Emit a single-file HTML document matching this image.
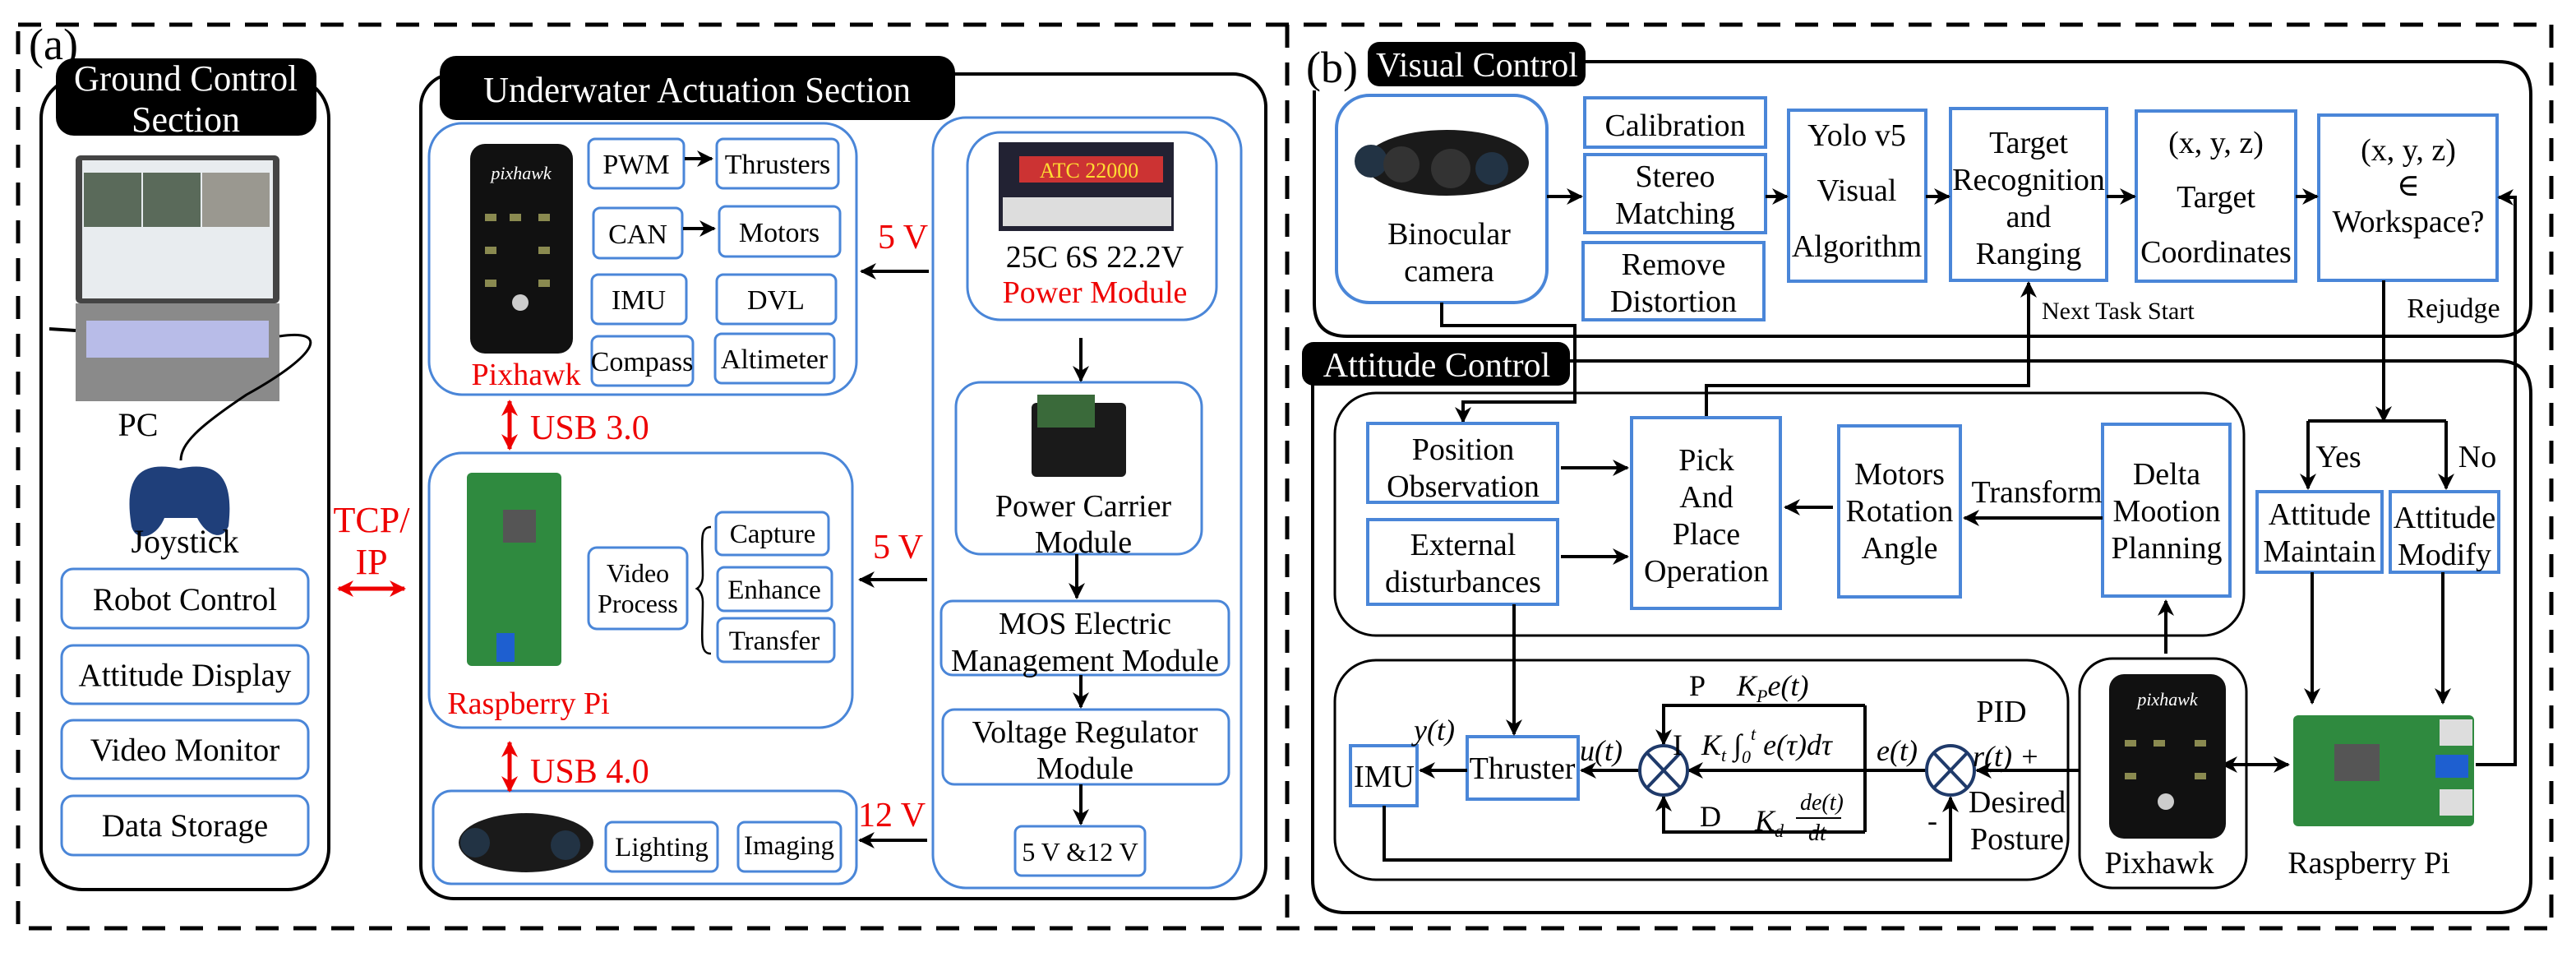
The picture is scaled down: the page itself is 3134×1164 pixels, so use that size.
<!DOCTYPE html>
<html><head><meta charset="utf-8"><style>
html,body{margin:0;padding:0;background:#fff;}
svg{display:block;}
svg text{font-family:"Liberation Serif","DejaVu Serif",serif;}
</style></head><body>
<svg width="3134" height="1164" viewBox="0 0 3134 1164" xmlns="http://www.w3.org/2000/svg" font-family="Liberation Serif, DejaVu Serif, serif">
<defs>
<marker id="a" viewBox="0 0 10 10" refX="9" refY="5" markerWidth="5" markerHeight="5" orient="auto-start-reverse"><path d="M0,0 L10,5 L0,10 L3,5 z" fill="#000"/></marker>
<marker id="r" viewBox="0 0 10 10" refX="9" refY="5" markerWidth="4" markerHeight="4" orient="auto-start-reverse"><path d="M0,0 L10,5 L0,10 L3,5 z" fill="#e00"/></marker>
</defs>
<g fill="none" stroke="#000" stroke-width="5" stroke-dasharray="28,18">
<rect x="22" y="30" width="3082" height="1099"/>
<line x1="1566" y1="30" x2="1566" y2="1129"/>
</g>
<text x="35" y="72" font-size="54">(a)</text>
<text x="1589" y="100" font-size="54">(b)</text>

<!-- Ground control -->
<rect x="50" y="94" width="350" height="988" rx="50" fill="none" stroke="#000" stroke-width="4"/>
<rect x="68" y="71" width="317" height="94" rx="22" fill="#000"/>
<text x="226" y="110" font-size="44" text-anchor="middle" fill="#fff" textLength="272" lengthAdjust="spacingAndGlyphs">Ground Control</text>
<text x="226" y="160" font-size="44" text-anchor="middle" fill="#fff">Section</text>
<!-- laptop -->
<rect x="92" y="189" width="248" height="180" rx="6" fill="#444"/>
<rect x="100" y="195" width="232" height="168" fill="#e8ecef"/>
<rect x="102" y="210" width="70" height="66" fill="#5a6a5a"/><rect x="174" y="210" width="70" height="66" fill="#5a6a5a"/><rect x="246" y="210" width="82" height="66" fill="#9a9890"/>
<rect x="92" y="369" width="248" height="119" fill="#8a8a8a"/>
<rect x="105" y="390" width="222" height="45" fill="#b8bce8"/>
<path d="M340,409 C400,400 390,430 300,480 C240,520 220,540 220,560" fill="none" stroke="#000" stroke-width="3"/>
<line x1="60" y1="400" x2="92" y2="402" stroke="#000" stroke-width="4"/>
<text x="168" y="530" font-size="40" text-anchor="middle">PC</text>
<path d="M160,640 C150,580 170,560 218,570 C265,560 285,580 278,640 C270,660 250,650 240,630 L200,630 C190,655 165,660 160,640z" fill="#1f3f7a"/>
<text x="225" y="672" font-size="40" text-anchor="middle">Joystick</text>
<g fill="none" stroke="#4a86d8" stroke-width="3">
<rect x="75" y="692" width="300" height="72" rx="14"/>
<rect x="75" y="785" width="300" height="71" rx="14"/>
<rect x="75" y="876" width="300" height="71" rx="14"/>
<rect x="75" y="968" width="300" height="72" rx="14"/>
</g>
<g font-size="39" text-anchor="middle">
<text x="225" y="742">Robot Control</text>
<text x="225" y="834">Attitude Display</text>
<text x="225" y="925">Video Monitor</text>
<text x="225" y="1017">Data Storage</text>
</g>
<text x="452" y="647" font-size="44" text-anchor="middle" fill="#e00">TCP/</text>
<text x="452" y="698" font-size="44" text-anchor="middle" fill="#e00">IP</text>
<line x1="412" y1="716" x2="492" y2="716" stroke="#e00" stroke-width="5" marker-start="url(#r)" marker-end="url(#r)"/>

<!-- Underwater actuation -->
<rect x="512" y="90" width="1028" height="1003" rx="40" fill="none" stroke="#000" stroke-width="4"/>
<rect x="535" y="68" width="627" height="78" rx="20" fill="#000"/>
<text x="848" y="124" font-size="44" text-anchor="middle" fill="#fff" textLength="520" lengthAdjust="spacingAndGlyphs">Underwater Actuation Section</text>
<g fill="none" stroke="#4a86d8" stroke-width="3">
<rect x="522" y="150" width="520" height="330" rx="40"/>
<rect x="716" y="169" width="116" height="60" rx="8"/>
<rect x="872" y="169" width="148" height="60" rx="8"/>
<rect x="722" y="253" width="108" height="61" rx="8"/>
<rect x="875" y="251" width="147" height="61" rx="8"/>
<rect x="720" y="334" width="115" height="60" rx="8"/>
<rect x="872" y="334" width="145" height="60" rx="8"/>
<rect x="720" y="409" width="123" height="60" rx="8"/>
<rect x="870" y="406" width="145" height="60" rx="8"/>
<rect x="522" y="551" width="515" height="334" rx="40"/>
<rect x="716" y="666" width="120" height="99" rx="10"/>
<rect x="871" y="623" width="137" height="52" rx="8"/>
<rect x="873" y="690" width="139" height="53" rx="8"/>
<rect x="873" y="752" width="142" height="53" rx="8"/>
<rect x="527" y="962" width="515" height="113" rx="22"/>
<rect x="737" y="1000" width="136" height="60" rx="8"/>
<rect x="898" y="1000" width="125" height="60" rx="8"/>
<rect x="1135" y="143" width="375" height="937" rx="40"/>
<rect x="1177" y="161" width="303" height="228" rx="40"/>
<rect x="1163" y="465" width="299" height="209" rx="30"/>
<rect x="1145" y="731" width="350" height="90" rx="14"/>
<rect x="1147" y="863" width="348" height="91" rx="14"/>
<rect x="1235" y="1005" width="158" height="60" rx="8"/>
</g>
<!-- pixhawk image -->
<rect x="572" y="175" width="125" height="255" rx="18" fill="#111"/>
<text x="634" y="218" font-size="22" font-style="italic" text-anchor="middle" fill="#fff">pixhawk</text>
<g fill="#8a8a50"><rect x="590" y="260" width="14" height="9"/><rect x="620" y="260" width="14" height="9"/><rect x="655" y="260" width="14" height="9"/><rect x="590" y="300" width="14" height="9"/><rect x="655" y="300" width="14" height="9"/><rect x="590" y="340" width="14" height="9"/><rect x="655" y="340" width="14" height="9"/></g>
<circle cx="633" cy="368" r="10" fill="#ccc"/>
<text x="640" y="468" font-size="38" text-anchor="middle" fill="#e00">Pixhawk</text>
<g font-size="34" text-anchor="middle">
<text x="774" y="211">PWM</text><text x="946" y="211">Thrusters</text>
<text x="776" y="296">CAN</text><text x="948" y="294">Motors</text>
<text x="777" y="376">IMU</text><text x="944" y="376">DVL</text>
<text x="781" y="451">Compass</text><text x="942" y="448">Altimeter</text>
</g>
<g stroke="#000" stroke-width="4" marker-end="url(#a)">
<line x1="833" y1="193" x2="866" y2="193"/>
<line x1="831" y1="278" x2="869" y2="278"/>
<line x1="1130" y1="330" x2="1048" y2="330"/>
<line x1="1128" y1="705" x2="1046" y2="705"/>
<line x1="1128" y1="1022" x2="1046" y2="1022"/>
<line x1="1315" y1="411" x2="1315" y2="463"/>
<line x1="1310" y1="674" x2="1310" y2="727"/>
<line x1="1315" y1="821" x2="1315" y2="860"/>
<line x1="1315" y1="954" x2="1315" y2="1002"/>
</g>
<g font-size="42" fill="#e00">
<text x="1068" y="302">5 V</text>
<text x="1062" y="679">5 V</text>
<text x="1044" y="1005">12 V</text>
<text x="645" y="534">USB 3.0</text>
<text x="645" y="952">USB 4.0</text>
</g>
<line x1="620" y1="488" x2="620" y2="546" stroke="#e00" stroke-width="5" marker-start="url(#r)" marker-end="url(#r)"/>
<line x1="620" y1="903" x2="620" y2="962" stroke="#e00" stroke-width="5" marker-start="url(#r)" marker-end="url(#r)"/>
<!-- rpi image -->
<rect x="568" y="575" width="115" height="235" rx="6" fill="#2f8a3f"/>
<rect x="604" y="770" width="22" height="35" fill="#1e5fd0"/>
<rect x="612" y="620" width="40" height="40" fill="#555"/>
<text x="643" y="868" font-size="38" text-anchor="middle" fill="#e00">Raspberry Pi</text>
<text x="776" y="708" font-size="32" text-anchor="middle">Video</text>
<text x="776" y="745" font-size="32" text-anchor="middle">Process</text>
<path d="M865,641 C850,641 855,660 855,700 C855,712 848,716 848,716 C848,716 855,720 855,732 C855,775 850,795 865,795" fill="none" stroke="#000" stroke-width="2.5"/>
<g font-size="33" text-anchor="middle">
<text x="940" y="660">Capture</text><text x="942" y="728">Enhance</text><text x="942" y="790">Transfer</text>
<text x="805" y="1041">Lighting</text><text x="960" y="1039">Imaging</text>
</g>
<!-- camera -->
<ellipse cx="640" cy="1025" rx="82" ry="36" fill="#1a1a1a"/>
<circle cx="578" cy="1025" r="18" fill="#234"/><circle cx="688" cy="1028" r="18" fill="#234"/>
<!-- power -->
<rect x="1215" y="173" width="213" height="108" fill="#223" />
<rect x="1240" y="190" width="175" height="32" fill="#c33"/>
<text x="1325" y="216" font-size="26" text-anchor="middle" fill="#fd3">ATC 22000</text>
<rect x="1220" y="240" width="205" height="35" fill="#ddd"/>
<text x="1332" y="325" font-size="38" text-anchor="middle">25C 6S 22.2V</text>
<text x="1332" y="368" font-size="38" text-anchor="middle" fill="#e00">Power Module</text>
<rect x="1255" y="490" width="115" height="90" rx="6" fill="#1a1a1a"/>
<rect x="1262" y="480" width="70" height="40" fill="#3a6a3a"/>
<g font-size="38" text-anchor="middle">
<text x="1318" y="628">Power Carrier</text><text x="1318" y="672">Module</text>
<text x="1320" y="771">MOS Electric</text><text x="1320" y="816">Management Module</text>
<text x="1320" y="903">Voltage Regulator</text><text x="1320" y="947">Module</text>
</g>
<text x="1314" y="1047" font-size="32" text-anchor="middle">5 V &amp;12 V</text>

<!-- (b) Visual control -->
<path d="M1929,75 L3039,75 Q3079,75 3079,115 L3079,369 Q3079,409 3039,409 L1639,409 Q1599,409 1599,369 L1599,110" fill="none" stroke="#000" stroke-width="4"/>
<rect x="1664" y="51" width="265" height="54" rx="14" fill="#000"/>
<text x="1797" y="93" font-size="42" text-anchor="middle" fill="#fff">Visual Control</text>
<g fill="none" stroke="#4a86d8" stroke-width="4">
<rect x="1626" y="116" width="256" height="252" rx="40"/>
<rect x="1928" y="119" width="220" height="60"/>
<rect x="1928" y="188" width="220" height="95"/>
<rect x="1926" y="295" width="220" height="94"/>
<rect x="2176" y="134" width="167" height="208"/>
<rect x="2373" y="132" width="190" height="209"/>
<rect x="2599" y="135" width="194" height="207"/>
<rect x="2821" y="140" width="217" height="201"/>
</g>
<ellipse cx="1760" cy="198" rx="100" ry="40" fill="#1a1a1a"/>
<circle cx="1668" cy="196" r="20" fill="#234"/><circle cx="1705" cy="200" r="22" fill="#333"/><circle cx="1765" cy="205" r="24" fill="#333"/><circle cx="1815" cy="205" r="20" fill="#234"/>
<g font-size="38" text-anchor="middle">
<text x="1763" y="297">Binocular</text><text x="1763" y="342">camera</text>
<text x="2038" y="165">Calibration</text>
<text x="2038" y="227">Stereo</text><text x="2038" y="272">Matching</text>
<text x="2036" y="334">Remove</text><text x="2036" y="379">Distortion</text>
<text x="2259" y="177">Yolo v5</text><text x="2259" y="244">Visual</text><text x="2259" y="312">Algorithm</text>
<text x="2468" y="186">Target</text><text x="2468" y="231">Recognition</text><text x="2468" y="276">and</text><text x="2468" y="321">Ranging</text>
<text x="2696" y="186">(x, y, z)</text><text x="2696" y="252">Target</text><text x="2696" y="319">Coordinates</text>
<text x="2930" y="195">(x, y, z)</text><text x="2930" y="238">∈</text><text x="2930" y="282">Workspace?</text>
</g>
<g stroke="#000" stroke-width="4" fill="none" marker-end="url(#a)">
<line x1="1882" y1="239" x2="1924" y2="239"/>
<line x1="2148" y1="239" x2="2174" y2="239"/>
<line x1="2343" y1="239" x2="2371" y2="239"/>
<line x1="2563" y1="239" x2="2597" y2="239"/>
<line x1="2793" y1="239" x2="2819" y2="239"/>
<polyline points="3012,930 3060,930 3060,240 3040,240"/>
<polyline points="2076,506 2076,469 2468,469 2468,344"/>
<polyline points="1754,368 1754,396 1916,396 1916,489 1780,489 1780,513"/>
</g>
<text x="2484" y="388" font-size="30">Next Task Start</text>
<text x="2985" y="386" font-size="34" text-anchor="middle">Rejudge</text>

<!-- Attitude control -->
<path d="M1910,439 L3039,439 Q3079,439 3079,479 L3079,1070 Q3079,1110 3039,1110 L1637,1110 Q1597,1110 1597,1070 L1597,460" fill="none" stroke="#000" stroke-width="4"/>
<rect x="1584" y="416" width="326" height="53" rx="14" fill="#000"/>
<text x="1748" y="458" font-size="42" text-anchor="middle" fill="#fff">Attitude Control</text>
<rect x="1624" y="478" width="1106" height="295" rx="50" fill="none" stroke="#000" stroke-width="3"/>
<rect x="1624" y="803" width="892" height="267" rx="50" fill="none" stroke="#000" stroke-width="3"/>
<rect x="2530" y="801" width="203" height="279" rx="40" fill="none" stroke="#000" stroke-width="3"/>
<g fill="none" stroke="#4a86d8" stroke-width="4">
<rect x="1664" y="515" width="231" height="96"/>
<rect x="1664" y="632" width="231" height="103"/>
<rect x="1985" y="508" width="181" height="232"/>
<rect x="2237" y="518" width="148" height="208"/>
<rect x="2558" y="516" width="155" height="209"/>
<rect x="2746" y="598" width="152" height="98"/>
<rect x="2908" y="598" width="132" height="98"/>
<rect x="1643" y="907" width="81" height="73"/>
<rect x="1785" y="896" width="135" height="76"/>
</g>
<g font-size="38" text-anchor="middle">
<text x="1780" y="559">Position</text><text x="1780" y="604">Observation</text>
<text x="1780" y="675">External</text><text x="1780" y="720">disturbances</text>
<text x="2076" y="572">Pick</text><text x="2076" y="617">And</text><text x="2076" y="662">Place</text><text x="2076" y="707">Operation</text>
<text x="2311" y="589">Motors</text><text x="2311" y="634">Rotation</text><text x="2311" y="679">Angle</text>
<text x="2636" y="589">Delta</text><text x="2636" y="634">Mootion</text><text x="2636" y="679">Planning</text>
<text x="2478" y="611">Transform</text>
<text x="2822" y="638">Attitude</text><text x="2822" y="683">Maintain</text>
<text x="2974" y="642">Attitude</text><text x="2974" y="687">Modify</text>
<text x="2845" y="568">Yes</text><text x="3014" y="568">No</text>
<text x="1684" y="957">IMU</text><text x="1852" y="947">Thruster</text>
<text x="2627" y="1062">Pixhawk</text><text x="2882" y="1062">Raspberry Pi</text>
<text x="2435" y="878">PID</text>
<text x="2454" y="988">Desired</text><text x="2454" y="1033">Posture</text>
</g>
<g stroke="#000" stroke-width="4" fill="none" marker-end="url(#a)">
<line x1="1899" y1="569" x2="1980" y2="569"/>
<line x1="1899" y1="677" x2="1980" y2="677"/>
<line x1="2230" y1="617" x2="2172" y2="617"/>
<line x1="2558" y1="630" x2="2390" y2="630"/>
<line x1="2635" y1="795" x2="2635" y2="731"/>
<polyline points="2900,341 2900,512"/>
<line x1="2808" y1="512" x2="2808" y2="594"/>
<line x1="2976" y1="512" x2="2976" y2="594"/>
<line x1="2813" y1="696" x2="2813" y2="855"/>
<line x1="2972" y1="696" x2="2972" y2="855"/>
<line x1="1842" y1="735" x2="1842" y2="893"/>
<line x1="2530" y1="937" x2="2405" y2="937"/>
<line x1="2343" y1="937" x2="2054" y2="937"/>
<line x1="1994" y1="937" x2="1924" y2="937"/>
<line x1="1785" y1="937" x2="1728" y2="937"/>
<polyline points="1684,980 1684,1046 2373,1046 2373,970"/>
<polyline points="2269,858 2024,858 2024,905"/>
<polyline points="2269,1012 2024,1012 2024,969"/>
</g>
<line x1="2808" y1="512" x2="2976" y2="512" stroke="#000" stroke-width="4"/>
<line x1="2269" y1="858" x2="2269" y2="1012" stroke="#000" stroke-width="4"/>
<line x1="2704" y1="930" x2="2784" y2="930" stroke="#000" stroke-width="4" marker-start="url(#a)" marker-end="url(#a)"/>
<g fill="#fff" stroke="#1f3a6a" stroke-width="4">
<ellipse cx="2024" cy="937" rx="29" ry="30"/><ellipse cx="2373" cy="937" rx="29" ry="30"/>
</g>
<g stroke="#1f3a6a" stroke-width="4">
<line x1="2004" y1="916" x2="2044" y2="958"/><line x1="2044" y1="916" x2="2004" y2="958"/>
<line x1="2353" y1="916" x2="2393" y2="958"/><line x1="2393" y1="916" x2="2353" y2="958"/>
</g>
<g font-size="36" font-style="italic">
<text x="1720" y="900">y(t)</text>
<text x="1922" y="925">u(t)</text>
<text x="2283" y="925">e(t)</text>
<text x="2400" y="932">r(t) +</text>
<text x="2113" y="846">K<tspan font-size="22" dy="8">P</tspan><tspan dy="-8">e(t)</tspan></text>
<text x="2070" y="918">K<tspan font-size="22" dy="8">t</tspan><tspan dy="-8"> ∫</tspan><tspan font-size="22" dy="10">0</tspan><tspan font-size="22" dy="-28">t</tspan><tspan dy="18"> e(τ)dτ</tspan></text>
<text x="2135" y="1010">K<tspan font-size="22" dy="8">d</tspan></text>
<text x="2190" y="985" font-size="28">de(t)</text>
<text x="2200" y="1022" font-size="28">dt</text>
</g>
<line x1="2185" y1="995" x2="2240" y2="995" stroke="#000" stroke-width="2"/>
<g font-size="36">
<text x="2055" y="846">P</text>
<text x="2035" y="918">I</text>
<text x="2068" y="1005">D</text>
<text x="2345" y="1010">-</text>
</g>
<!-- pixhawk & rpi images -->
<rect x="2566" y="820" width="142" height="200" rx="18" fill="#111"/>
<text x="2637" y="858" font-size="22" font-style="italic" text-anchor="middle" fill="#fff">pixhawk</text>
<g fill="#8a8a50"><rect x="2585" y="900" width="14" height="8"/><rect x="2620" y="900" width="14" height="8"/><rect x="2670" y="900" width="14" height="8"/><rect x="2585" y="940" width="14" height="8"/><rect x="2670" y="940" width="14" height="8"/></g>
<circle cx="2635" cy="975" r="10" fill="#ccc"/>
<rect x="2790" y="870" width="220" height="135" rx="6" fill="#2f8a3f"/>
<rect x="2963" y="918" width="40" height="28" fill="#1e5fd0"/>
<rect x="2968" y="875" width="40" height="32" fill="#ddd"/><rect x="2968" y="960" width="40" height="32" fill="#ddd"/>
<rect x="2840" y="905" width="55" height="45" fill="#555"/>
</svg>
</body></html>
